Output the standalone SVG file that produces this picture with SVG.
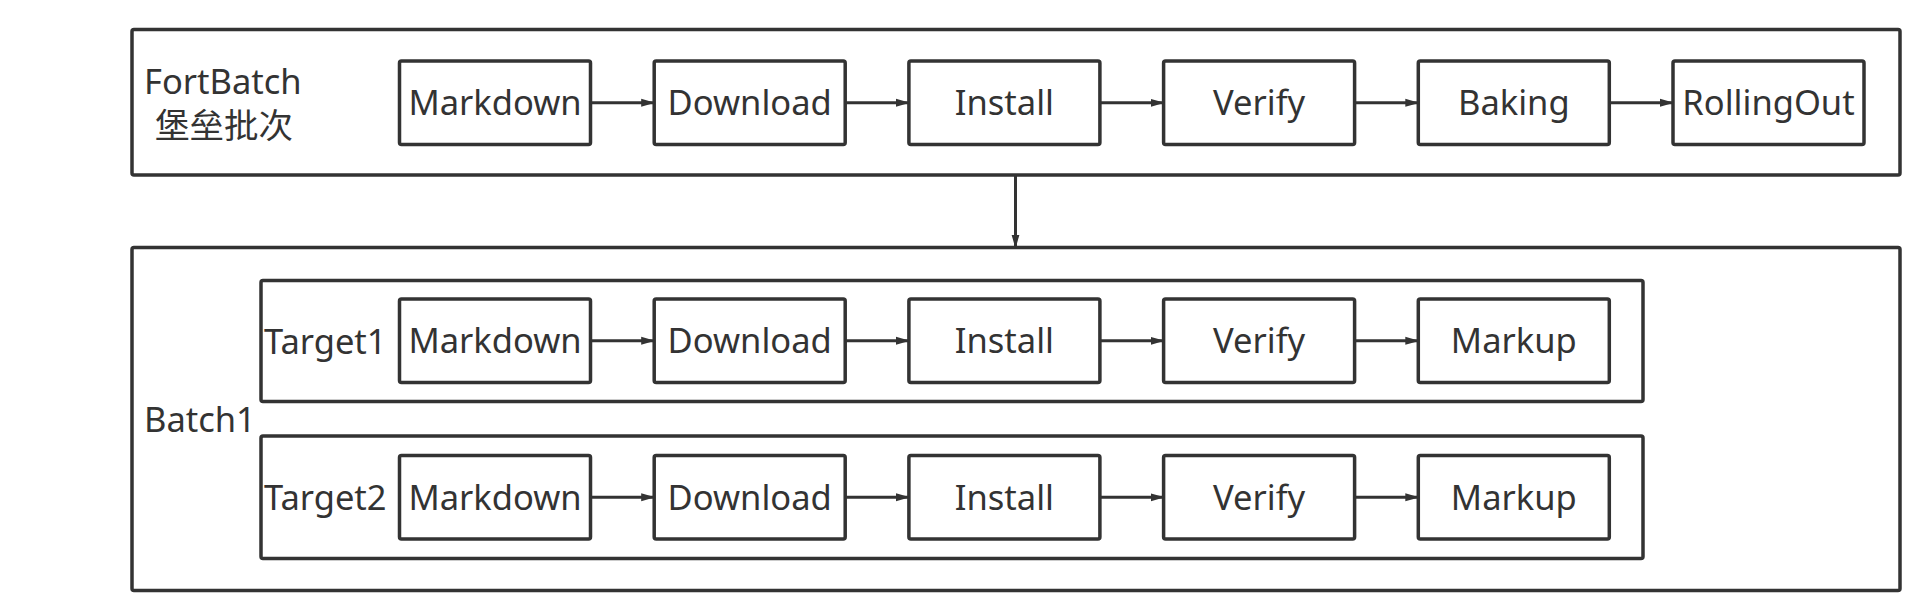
<svg xmlns="http://www.w3.org/2000/svg" width="1920" height="611" viewBox="0 0 1920 611">
<style>
.c{fill:none;stroke:#333;stroke-width:3.5}
.b{fill:#fff;stroke:#333;stroke-width:3.5}
.t{font-family:"Noto Sans","Noto Sans CJK SC",sans-serif;font-size:34.5px;fill:#333}
.m{text-anchor:middle}
.a{stroke:#333;stroke-width:3;fill:none;marker-end:url(#ah)}
</style>
<defs>
<marker id="ah" markerWidth="14" markerHeight="10" refX="13" refY="5" orient="auto" markerUnits="userSpaceOnUse">
<path d="M0,1 L14,5 L0,9 Z" fill="#333"/>
</marker>
</defs>
<rect width="1920" height="611" fill="#fff"/>
<g id="fortbatch">
<rect class="c" x="132" y="29.5" width="1768" height="145.5" rx="2"/>
<text class="t" x="144" y="94">FortBatch</text>
<text class="t" x="155" y="138">堡垒批次</text>
</g>
<g id="batch1">
<rect class="c" x="132" y="247.5" width="1768" height="343" rx="2"/>
<text class="t" x="144" y="432">Batch1</text>
</g>
<g id="target1">
<rect class="c" x="261" y="280.5" width="1382" height="121" rx="2"/>
<text class="t" x="264" y="354">Target1</text>
</g>
<g id="target2">
<rect class="c" x="261" y="436" width="1382" height="122.5" rx="2"/>
<text class="t" x="264" y="510">Target2</text>
</g>
<g id="f-markdown"><rect class="b" x="399.5" y="61" width="191" height="83.5" rx="2"/><text class="t m" x="495" y="115">Markdown</text></g>
<g id="f-download"><rect class="b" x="654.2" y="61" width="191" height="83.5" rx="2"/><text class="t m" x="749.7" y="115">Download</text></g>
<g id="f-install"><rect class="b" x="908.9" y="61" width="191" height="83.5" rx="2"/><text class="t m" x="1004.4" y="115">Install</text></g>
<g id="f-verify"><rect class="b" x="1163.6" y="61" width="191" height="83.5" rx="2"/><text class="t m" x="1259.1" y="115">Verify</text></g>
<g id="f-baking"><rect class="b" x="1418.3" y="61" width="191" height="83.5" rx="2"/><text class="t m" x="1513.8" y="115">Baking</text></g>
<g id="f-rollingout"><rect class="b" x="1673" y="61" width="191" height="83.5" rx="2"/><text class="t m" x="1768.5" y="115">RollingOut</text></g>
<g id="t1-markdown"><rect class="b" x="399.5" y="299" width="191" height="83.5" rx="2"/><text class="t m" x="495" y="353">Markdown</text></g>
<g id="t1-download"><rect class="b" x="654.2" y="299" width="191" height="83.5" rx="2"/><text class="t m" x="749.7" y="353">Download</text></g>
<g id="t1-install"><rect class="b" x="908.9" y="299" width="191" height="83.5" rx="2"/><text class="t m" x="1004.4" y="353">Install</text></g>
<g id="t1-verify"><rect class="b" x="1163.6" y="299" width="191" height="83.5" rx="2"/><text class="t m" x="1259.1" y="353">Verify</text></g>
<g id="t1-markup"><rect class="b" x="1418.3" y="299" width="191" height="83.5" rx="2"/><text class="t m" x="1513.8" y="353">Markup</text></g>
<g id="t2-markdown"><rect class="b" x="399.5" y="455.5" width="191" height="83.5" rx="2"/><text class="t m" x="495" y="509.5">Markdown</text></g>
<g id="t2-download"><rect class="b" x="654.2" y="455.5" width="191" height="83.5" rx="2"/><text class="t m" x="749.7" y="509.5">Download</text></g>
<g id="t2-install"><rect class="b" x="908.9" y="455.5" width="191" height="83.5" rx="2"/><text class="t m" x="1004.4" y="509.5">Install</text></g>
<g id="t2-verify"><rect class="b" x="1163.6" y="455.5" width="191" height="83.5" rx="2"/><text class="t m" x="1259.1" y="509.5">Verify</text></g>
<g id="t2-markup"><rect class="b" x="1418.3" y="455.5" width="191" height="83.5" rx="2"/><text class="t m" x="1513.8" y="509.5">Markup</text></g>
<g id="connectors">
<line class="a" x1="590.5" y1="102.8" x2="654.2" y2="102.8"/>
<line class="a" x1="845.2" y1="102.8" x2="908.9" y2="102.8"/>
<line class="a" x1="1099.9" y1="102.8" x2="1163.6" y2="102.8"/>
<line class="a" x1="1354.6" y1="102.8" x2="1418.3" y2="102.8"/>
<line class="a" x1="1609.3" y1="102.8" x2="1673" y2="102.8"/>
<line class="a" x1="590.5" y1="340.8" x2="654.2" y2="340.8"/>
<line class="a" x1="845.2" y1="340.8" x2="908.9" y2="340.8"/>
<line class="a" x1="1099.9" y1="340.8" x2="1163.6" y2="340.8"/>
<line class="a" x1="1354.6" y1="340.8" x2="1418.3" y2="340.8"/>
<line class="a" x1="590.5" y1="497.3" x2="654.2" y2="497.3"/>
<line class="a" x1="845.2" y1="497.3" x2="908.9" y2="497.3"/>
<line class="a" x1="1099.9" y1="497.3" x2="1163.6" y2="497.3"/>
<line class="a" x1="1354.6" y1="497.3" x2="1418.3" y2="497.3"/>
<line class="a" x1="1015.5" y1="175" x2="1015.5" y2="247.5"/>
</g>
</svg>
